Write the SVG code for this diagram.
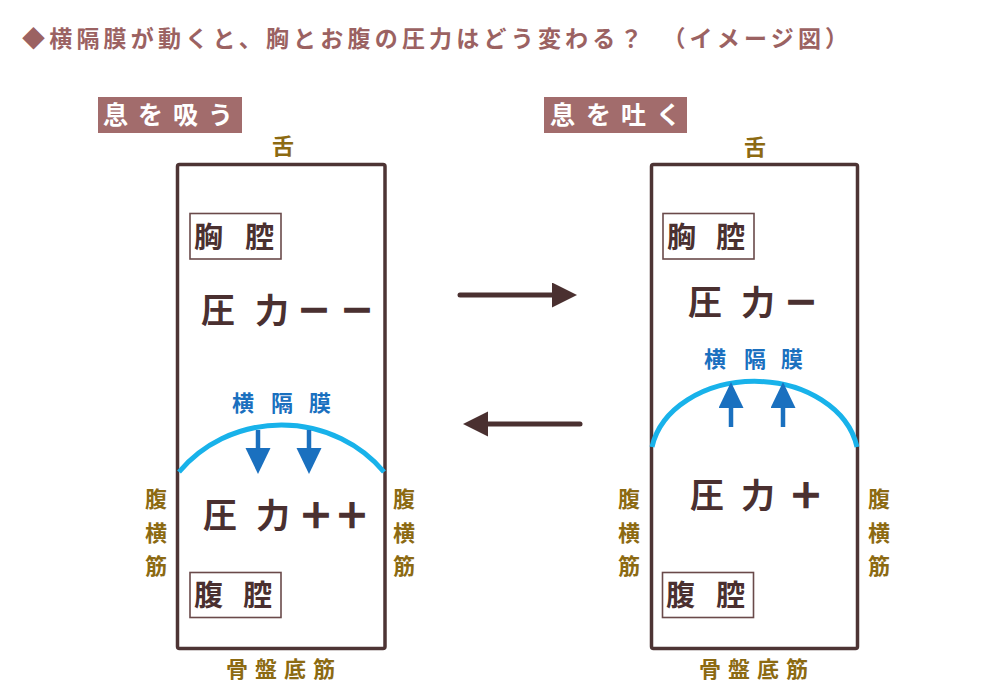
<svg xmlns="http://www.w3.org/2000/svg" width="990" height="700" viewBox="0 0 990 700">
<defs>
<style>
text{font-family:"Noto Sans CJK JP","Noto Sans CJK SC",sans-serif;font-weight:bold}
.title{font-size:23px;fill:#9b6262;letter-spacing:4.2px}
.tag{fill:#a26c6c}
.tagt{font-size:25px;fill:#ffffff}
.frame{fill:none;stroke:#4d3434;stroke-width:3.5}
.cav{fill:#ffffff;stroke:#6a4a4a;stroke-width:1.6}
.cavt{font-size:29px;fill:#4a3030}
.pres{font-size:34px;fill:#4a3030}
.sym{stroke:#4a3030;stroke-width:1.6}
.mus{font-size:22px;fill:#8c6a12}
.mid{text-anchor:middle}
.dia{fill:none;stroke:#18b2ea;stroke-width:5}
.diat{font-size:22px;fill:#1a70bf}
.barrow{stroke:#1a70bf;stroke-width:4.5}
.conn{stroke:#4a3030;stroke-width:5;stroke-linecap:round}
</style>
<marker id="hb" markerUnits="userSpaceOnUse" markerWidth="27" markerHeight="27" refX="0" refY="12.5" orient="auto" viewBox="0 0 27 27">
<path d="M0,0 L26,12.5 L0,25 Z" fill="#1a70bf"/>
</marker>
<marker id="hd" markerUnits="userSpaceOnUse" markerWidth="27" markerHeight="27" refX="0" refY="12.5" orient="auto" viewBox="0 0 27 27">
<path d="M0,0 L25,12.5 L0,25 Z" fill="#4a3030"/>
</marker>
</defs>
<rect width="990" height="700" fill="#ffffff"/>

<g id="title">
<text class="title" x="22" y="46.5">◆横隔膜が動くと、胸とお腹の圧力はどう変わる？　（イメージ図）</text>
</g>

<g id="tag-inhale">
<rect class="tag" x="98" y="97" width="144" height="36"/>
<text class="tagt" x="103 138 173 208" y="124">息を吸う</text>
</g>
<g id="tag-exhale">
<rect class="tag" x="544" y="97" width="143" height="36"/>
<text class="tagt" x="550 586 621 656" y="124">息を吐く</text>
</g>

<g id="panel-inhale">
<rect class="frame" x="177.5" y="164.5" width="207.5" height="484" rx="2"/>
<text class="mus mid" x="283" y="154">舌</text>
<g id="chest-inhale">
<rect class="cav" x="190" y="213.5" width="91" height="45.5"/>
<text class="cavt" x="194 245" y="248">胸腔</text>
</g>
<text class="pres" x="201 255" y="323">圧力</text>
<text class="pres sym" x="297 340" y="323">－－</text>
<g id="diaphragm-inhale">
<path class="dia" d="M179,472 A130,122 0 0 1 384,472"/>
<text class="diat" x="232 271 309" y="411">横隔膜</text>
<line class="barrow" x1="258" y1="430" x2="258" y2="448" marker-end="url(#hb)"/>
<line class="barrow" x1="309" y1="430" x2="309" y2="448" marker-end="url(#hb)"/>
</g>
<text class="pres" x="203 256" y="528">圧力</text>
<text class="pres sym" x="299 335" y="528">＋＋</text>
<g id="abdomen-inhale">
<rect class="cav" x="190" y="572.5" width="91" height="45"/>
<text class="cavt" x="194 243" y="606">腹腔</text>
</g>
<text class="mus mid" x="156" y="507">腹</text>
<text class="mus mid" x="156" y="541">横</text>
<text class="mus mid" x="156" y="574">筋</text>
<text class="mus mid" x="404" y="507">腹</text>
<text class="mus mid" x="404" y="541">横</text>
<text class="mus mid" x="404" y="574">筋</text>
<text class="mus" x="226 255 284 313" y="677">骨盤底筋</text>
</g>

<g id="panel-exhale">
<rect class="frame" x="651.5" y="164.5" width="206" height="484" rx="2"/>
<text class="mus mid" x="755" y="155">舌</text>
<g id="chest-exhale">
<rect class="cav" x="663" y="213.5" width="91" height="45.5"/>
<text class="cavt" x="667 716" y="248">胸腔</text>
</g>
<text class="pres" x="688 741" y="315">圧力</text>
<text class="pres sym" x="784" y="315">－</text>
<g id="diaphragm-exhale">
<path class="dia" d="M652,447 A104,79 0 0 1 857,447"/>
<text class="diat" x="704 744 781" y="367">横隔膜</text>
<line class="barrow" x1="731" y1="427" x2="731" y2="408" marker-end="url(#hb)"/>
<line class="barrow" x1="783" y1="427" x2="783" y2="408" marker-end="url(#hb)"/>
</g>
<text class="pres" x="690 741" y="508">圧力</text>
<text class="pres sym" x="789" y="508">＋</text>
<g id="abdomen-exhale">
<rect class="cav" x="662.5" y="572.5" width="91" height="45"/>
<text class="cavt" x="666 716" y="606">腹腔</text>
</g>
<text class="mus mid" x="629" y="507">腹</text>
<text class="mus mid" x="629" y="541">横</text>
<text class="mus mid" x="629" y="574">筋</text>
<text class="mus mid" x="879" y="507">腹</text>
<text class="mus mid" x="879" y="541">横</text>
<text class="mus mid" x="879" y="574">筋</text>
<text class="mus" x="699 728 757 786" y="677">骨盤底筋</text>
</g>

<g id="connectors">
<line class="conn" x1="460" y1="295" x2="552" y2="295" marker-end="url(#hd)"/>
<line class="conn" x1="580" y1="424" x2="488" y2="424" marker-end="url(#hd)"/>
</g>
</svg>
